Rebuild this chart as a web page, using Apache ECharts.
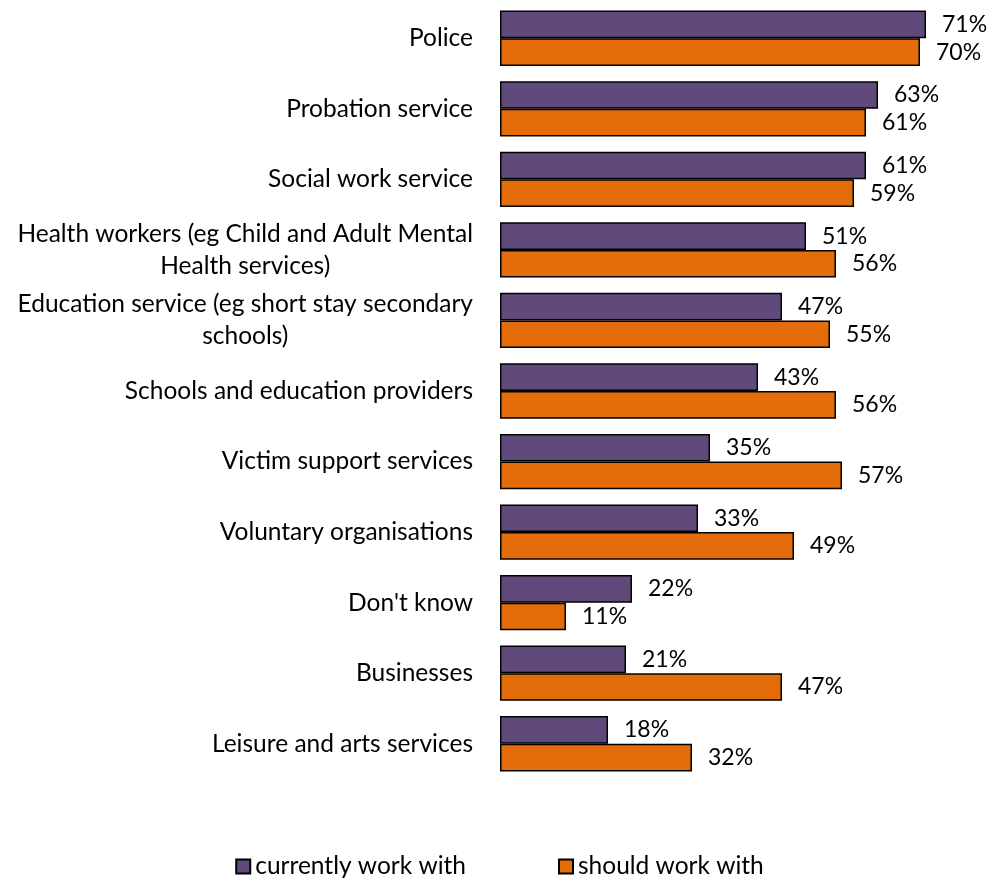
<!DOCTYPE html>
<html>
<head>
<meta charset="utf-8">
<script src="https://cdn.jsdelivr.net/npm/echarts@6/dist/echarts.min.js"></script>
<style>
  html, body { margin: 0; padding: 0; background: #fff; }
  #chart { width: 999px; height: 881px; }
</style>
</head>
<body>
<div id="chart"></div>
<script>
// Agencies, listed top to bottom (long names carry their line break)
const categories = [
  'Police',
  'Probation service',
  'Social work service',
  'Health workers (eg Child and Adult Mental\nHealth services)',
  'Education service (eg short stay secondary\nschools)',
  'Schools and education providers',
  'Victim support services',
  'Voluntary organisations',
  "Don't know",
  'Businesses',
  'Leisure and arts services'
];
const currentlyWorkWith = [71, 63, 61, 51, 47, 43, 35, 33, 22, 21, 18];
const shouldWorkWith    = [70, 61, 59, 56, 55, 56, 57, 49, 11, 47, 32];
const seriesNames = ['currently work with', 'should work with'];

const FONT = 'Lato';
const CAT_SIZE = 24.5;
const chart = echarts.init(document.getElementById('chart'), null, { renderer: 'canvas' });

const labelStyle = {
  show: true,
  position: 'right',
  distance: 16,
  formatter: p => p.value + '%',
  color: '#000',
  fontFamily: FONT,
  fontSize: 23
};

chart.setOption({
  animation: false,
  textStyle: { fontFamily: FONT },
  grid: { left: 500, top: 3, width: 480, bottom: 102, containLabel: false },
  legend: {
    bottom: -3,
    left: 'center',
    itemWidth: 14,
    itemHeight: 14,
    itemGap: 92,
    textStyle: { fontFamily: FONT, fontSize: CAT_SIZE, color: '#000' },
    data: seriesNames.map(n => ({ name: n, icon: 'rect' }))
  },
  xAxis: {
    type: 'value',
    min: 0,
    max: 80,
    show: false
  },
  yAxis: {
    type: 'category',
    data: categories,
    inverse: true,
    axisLine: { show: false },
    axisTick: { show: false },
    axisLabel: {
      margin: 27,
      align: 'right',
      // each line is centred within the label block
      formatter: v => v.split('\n').map(l => '{c|' + l + '}').join('\n'),
      rich: {
        c: {
          align: 'center',
          color: '#000',
          fontFamily: FONT,
          fontSize: CAT_SIZE,
          lineHeight: 32
        }
      }
    }
  },
  series: [
    {
      name: seriesNames[0],
      type: 'bar',
      data: currentlyWorkWith,
      barGap: '0%',
      barCategoryGap: '21.6%',
      itemStyle: { color: '#604A7B', borderColor: '#000', borderWidth: 1.5 },
      label: labelStyle
    },
    {
      name: seriesNames[1],
      type: 'bar',
      data: shouldWorkWith,
      barGap: '0%',
      barCategoryGap: '21.6%',
      itemStyle: { color: '#E46C0A', borderColor: '#000', borderWidth: 1.5 },
      label: labelStyle
    }
  ]
});
</script>
</body>
</html>
